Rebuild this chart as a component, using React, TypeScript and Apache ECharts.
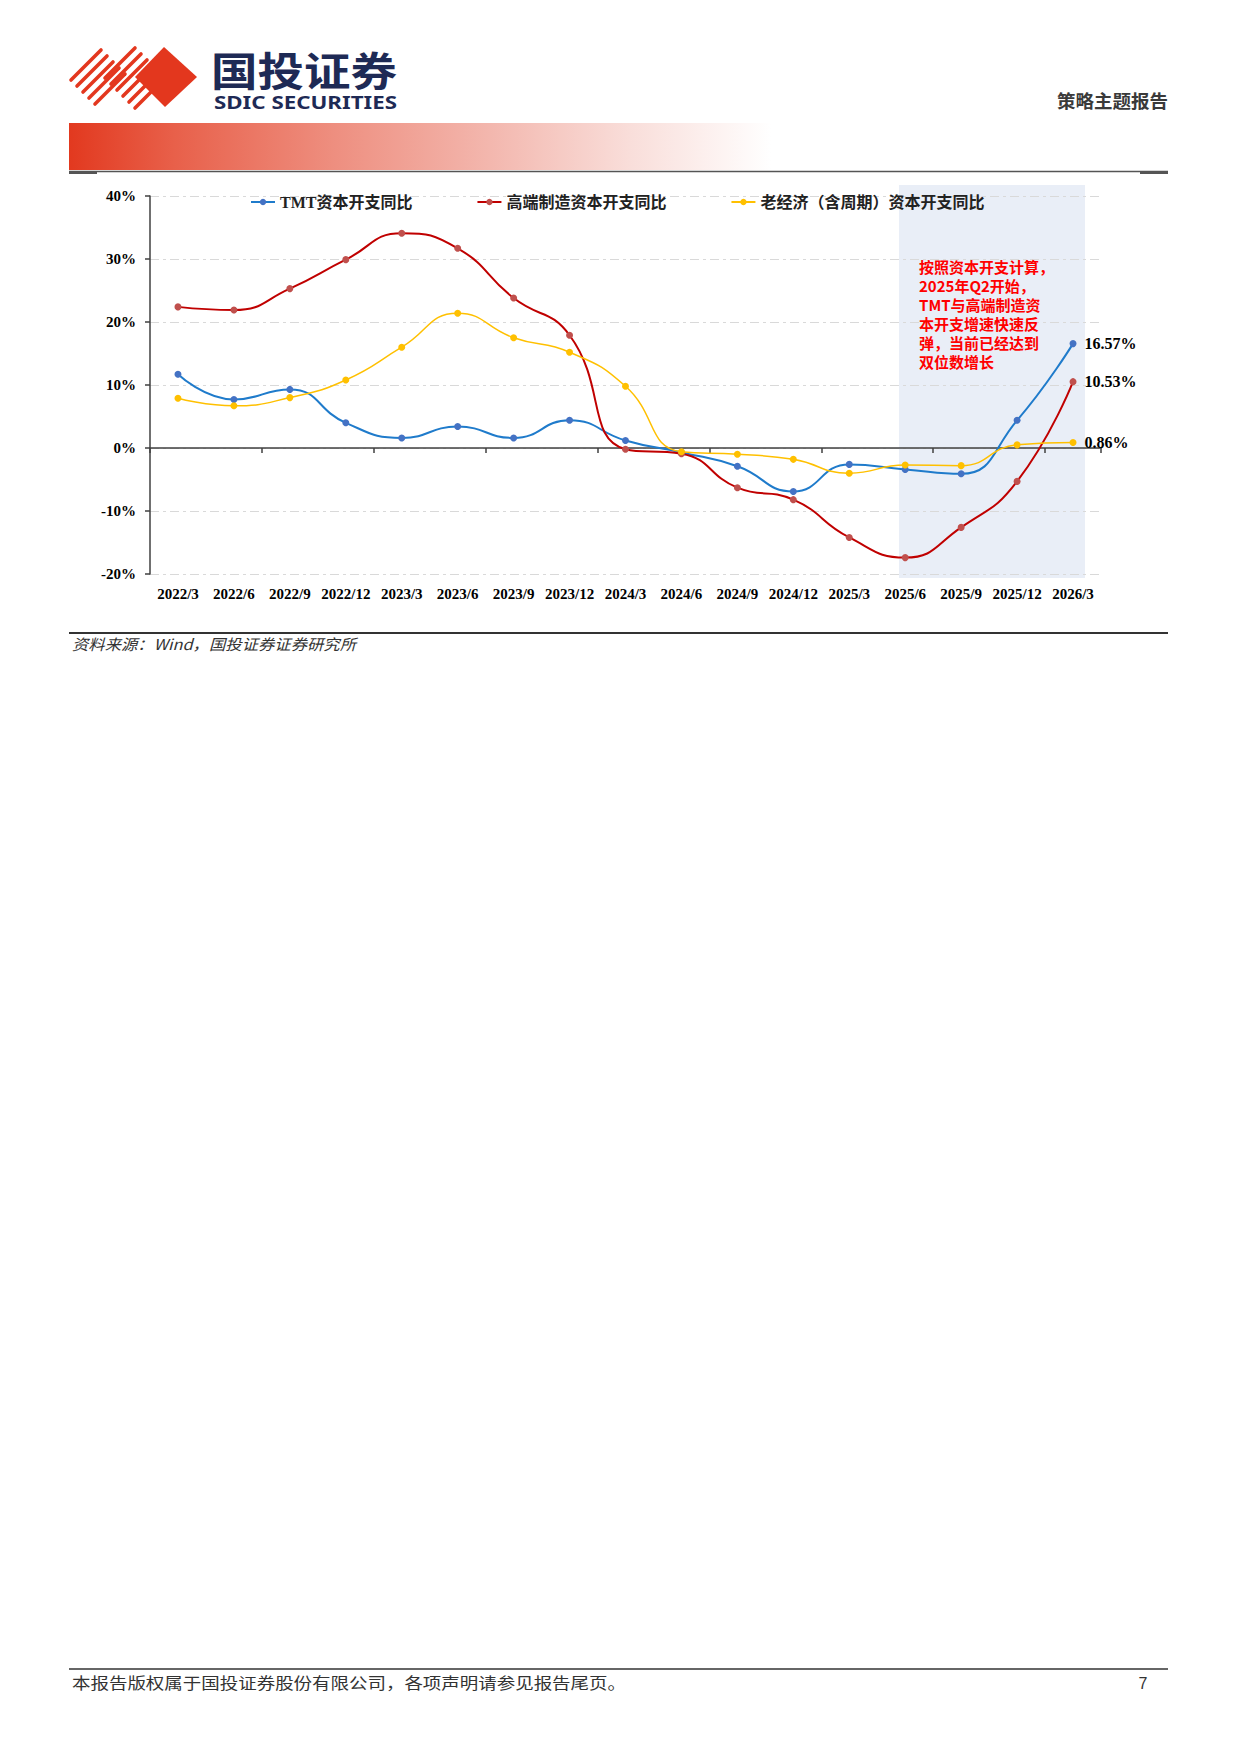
import React, { useEffect, useRef } from "react";
import * as echarts from "echarts";

const categories = ["2022/3","2022/6","2022/9","2022/12","2023/3","2023/6","2023/9","2023/12","2024/3","2024/6","2024/9","2024/12","2025/3","2025/6","2025/9","2025/12","2026/3"];
const seriesNames = ["TMT资本开支同比", "高端制造资本开支同比", "老经济（含周期）资本开支同比"];
const tmtValues = [11.7, 7.7, 9.3, 4.0, 1.6, 3.4, 1.6, 4.4, 1.2, -0.7, -2.9, -6.9, -2.6, -3.4, -4.1, 4.4, 16.57];
const highEndValues = [22.4, 21.9, 25.3, 29.9, 34.1, 31.7, 23.8, 17.9, -0.2, -0.9, -6.3, -8.2, -14.2, -17.4, -12.6, -5.3, 10.53];
const oldEconValues = [7.9, 6.7, 8.0, 10.8, 16.0, 21.4, 17.5, 15.2, 9.8, -0.6, -1.0, -1.8, -4.0, -2.7, -2.8, 0.5, 0.86];
const yMin = -20;
const yMax = 40;
const yInterval = 10;
const annotationLines = ["按照资本开支计算，", "2025年Q2开始，", "TMT与高端制造资", "本开支增速快速反", "弹，当前已经达到", "双位数增长"];

const SERIF = '"Liberation Serif", "Times New Roman", serif';
const CJK = '"Noto Sans CJK SC", sans-serif';
const MIXED = '"Liberation Serif", "Noto Sans CJK SC", sans-serif';

function withEndLabel(values: number[]) {
  const last = values.length - 1;
  return values.map((v, i) =>
    i === last
      ? {
          value: v,
          label: {
            show: true,
            position: "right",
            distance: 8,
            formatter: (p: any) => Number(p.value).toFixed(2) + "%",
            fontFamily: SERIF,
            fontWeight: "bold",
            fontSize: 16,
            color: "#000",
          },
        }
      : v
  );
}

export default function App() {
  const ref = useRef<HTMLDivElement>(null);

  useEffect(() => {
    const chart = echarts.init(ref.current!, null, { renderer: "svg" });
    const lineColors = ["#1F7BCB", "#C00000", "#FFC000"];
    const markerColors = ["#4472C4", "#C0504D", "#FFC000"];
    const widths = [2, 2, 1.5];
    const datas = [tmtValues, highEndValues, oldEconValues];
    chart.setOption({
      animation: false,
      grid: { left: 150, right: 139, top: 21, bottom: 61 },
      legend: {
        left: 245,
        top: 14,
        itemWidth: 24,
        itemHeight: 8,
        itemGap: 64,
        data: seriesNames,
        textStyle: { fontFamily: MIXED, fontSize: 16, fontWeight: "bold", color: "#222" },
      },
      xAxis: [
        {
          type: "category",
          data: categories,
          boundaryGap: true,
          axisLine: { onZero: true, lineStyle: { color: "#404040", width: 1.5 } },
          axisTick: { show: true, length: 5, lineStyle: { color: "#404040", width: 1.5 } },
          axisLabel: { show: false },
          splitLine: { show: false },
        },
        {
          type: "category",
          data: categories,
          position: "bottom",
          boundaryGap: true,
          axisLine: { show: false, onZero: false },
          axisTick: { show: false },
          splitLine: { show: false },
          axisLabel: { interval: 0, margin: 12, fontFamily: SERIF, fontWeight: "bold", fontSize: 15, color: "#000" },
        },
      ],
      yAxis: {
        type: "value",
        min: yMin,
        max: yMax,
        interval: yInterval,
        axisLine: { show: true, lineStyle: { color: "#404040", width: 1.5 } },
        axisTick: { show: true, length: 5, lineStyle: { color: "#404040", width: 1.5 } },
        axisLabel: { formatter: "{value}%", margin: 14, fontFamily: SERIF, fontWeight: "bold", fontSize: 15, color: "#000" },
        splitLine: { show: true, lineStyle: { color: "#D9D9D9", width: 1, type: [9, 4, 3, 4] } },
      },
      graphic: {
        elements: [
          {
            type: "rect",
            z: -10,
            shape: { x: 899, y: 10, width: 186, height: 393 },
            style: { fill: "#E9EEF7" },
          },
          {
            type: "text",
            z: 100,
            x: 919,
            y: 82,
            style: {
              text: annotationLines.join("\n"),
              fill: "#FF0000",
              fontFamily: CJK,
              fontWeight: "bold",
              fontSize: 15,
              lineHeight: 19,
              verticalAlign: "top",
            },
          },
        ],
      },
      series: seriesNames.map((name, i) => ({
        name,
        type: "line",
        xAxisIndex: 0,
        data: withEndLabel(datas[i]),
        smooth: true,
        symbol: "circle",
        symbolSize: 7,
        showSymbol: true,
        lineStyle: { color: lineColors[i], width: widths[i] },
        itemStyle: { color: markerColors[i] },
        z: 3 + i,
      })),
    });
    return () => chart.dispose();
  }, []);

  const groupA = [0, 1, 2, 3, 4].map((i) => [71 + 6 * i, 80 + 6 * i, 101 + 6 * i, 50 + 6 * i]);
  const groupB = [0, 1, 2].map((i) => [105 + 6 * i, 78 + 6 * i, 135 + 6 * i, 48 + 6 * i]);
  const groupC = [0, 1, 2].map((i) => [123 + 6 * i, 96 + 6 * i, 147 + 6 * i, 72 + 6 * i]);

  return (
    <div style={{ position: "absolute", left: 0, top: 0, width: 1240, height: 1753, background: "#fff", overflow: "hidden" }}>
      <svg width={1240} height={1753} viewBox="0 0 1240 1753" style={{ position: "absolute", left: 0, top: 0 }}>
        <defs>
          <linearGradient id="bar" x1="0" y1="0" x2="1" y2="0">
            <stop offset="0" stopColor="#E2391F" />
            <stop offset="0.15" stopColor="#E8604A" />
            <stop offset="0.38" stopColor="#EE8F80" />
            <stop offset="0.6" stopColor="#F3B7AE" />
            <stop offset="0.8" stopColor="#F9DEDA" />
            <stop offset="1" stopColor="#FFFFFF" />
          </linearGradient>
        </defs>
        {[...groupA, ...groupB, ...groupC].map((s, k) => (
          <line key={k} x1={s[0]} y1={s[1]} x2={s[2]} y2={s[3]} stroke="#E3371E" strokeWidth={3.6} strokeLinecap="round" />
        ))}
        <polygon points="164,47 197,77 165,107 135,77" fill="#E3371E" />
        <text x={211} y={86} fontFamily={CJK} fontWeight="bold" fontSize={40} fill="#1E2A55" textLength={186} lengthAdjust="spacingAndGlyphs">国投证券</text>
        <text x={214} y={109} fontFamily='"Noto Sans", sans-serif' fontWeight="bold" fontSize={18} fill="#1E2A55" textLength={183} lengthAdjust="spacingAndGlyphs">SDIC SECURITIES</text>
        <text x={1057} y={108} fontFamily={CJK} fontWeight="bold" fontSize={18} fill="#3A3A3A" textLength={111} lengthAdjust="spacingAndGlyphs">策略主题报告</text>
        <rect x={69} y={123} width={702} height={47} fill="url(#bar)" />
        <line x1={69} y1={171.5} x2={1168} y2={171.5} stroke="#555" strokeWidth={1.5} />
        <rect x={69} y={171.5} width={28} height={2.5} fill="#555" />
        <rect x={1140} y={171.5} width={28} height={2.5} fill="#555" />
        <line x1={69} y1={633} x2={1168} y2={633} stroke="#333" strokeWidth={2} />
        <text x={72} y={650} fontFamily={CJK} fontStyle="italic" fontSize={15} fill="#333" textLength={284} lengthAdjust="spacingAndGlyphs">资料来源：Wind，国投证券证券研究所</text>
        <line x1={69} y1={1669} x2={1168} y2={1669} stroke="#333" strokeWidth={1.5} />
        <text x={72} y={1689} fontFamily={CJK} fontSize={15.5} fill="#333" textLength={554} lengthAdjust="spacingAndGlyphs">本报告版权属于国投证券股份有限公司，各项声明请参见报告尾页。</text>
        <text x={1143} y={1689} textAnchor="middle" fontFamily='"Liberation Sans", sans-serif' fontSize={16} fill="#333">7</text>
      </svg>
      <div ref={ref} style={{ position: "absolute", left: 0, top: 175, width: 1240, height: 460 }} />
    </div>
  );
}
